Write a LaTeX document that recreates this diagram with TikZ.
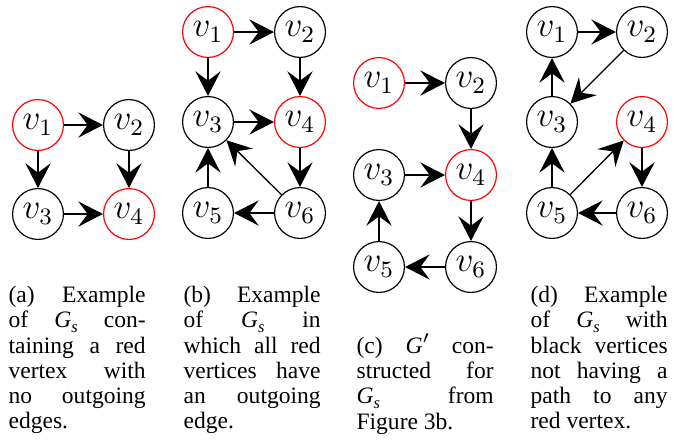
\documentclass[tikz,border=0pt]{standalone}
\usepackage{fontspec}
\setmainfont{Liberation Serif}
\usetikzlibrary{arrows.meta}

% caption column width and helpers
\newlength{\capw}
\setlength{\capw}{46.6pt}
\newcommand{\capline}[1]{\makebox[\capw][s]{#1}}
\newcommand{\Gsub}{\textit{G}\raisebox{-0.4ex}{\fontsize{5.6}{6}\selectfont\textit{s}}}
\newcommand{\Gprime}{\textit{G}\raisebox{0.85ex}{\fontsize{5.6}{6}\selectfont$\prime$}}

\begin{document}
\begin{tikzpicture}[x=0.34pt,y=-0.34pt,
  vtx/.style={circle, draw=black, line width=0.4pt, minimum size=17.3pt,
              inner sep=0pt, font=\fontsize{11.5}{12}\selectfont},
  redv/.style={draw=red},
  edge/.style={-{Stealth[length=8.4pt,width=8.6pt,inset=3.2pt]}, line width=0.45pt},
  caption/.style={anchor=base west, inner sep=0pt, font=\fontsize{8}{8.6}\selectfont}
]
\useasboundingbox (0,0) rectangle (688,441);

% (a)
\node[vtx,redv] (a1) at (38,125) {$v_1$};
\node[vtx]      (a2) at (129,125) {$v_2$};
\node[vtx]      (a3) at (38,214) {$v_3$};
\node[vtx,redv] (a4) at (129,214) {$v_4$};
\draw[edge] (a1) -- (a2);
\draw[edge] (a1) -- (a3);
\draw[edge] (a2) -- (a4);
\draw[edge] (a3) -- (a4);

% (b)
\node[vtx,redv] (b1) at (208,32) {$v_1$};
\node[vtx]      (b2) at (300,32) {$v_2$};
\node[vtx]      (b3) at (208,122) {$v_3$};
\node[vtx,redv] (b4) at (300,122) {$v_4$};
\node[vtx]      (b5) at (208,213) {$v_5$};
\node[vtx]      (b6) at (300,213) {$v_6$};
\draw[edge] (b1) -- (b2);
\draw[edge] (b1) -- (b3);
\draw[edge] (b2) -- (b4);
\draw[edge] (b3) -- (b4);
\draw[edge] (b4) -- (b6);
\draw[edge] (b6) -- (b5);
\draw[edge] (b5) -- (b3);
\draw[edge] (b6) -- (b3);

% (c)
\node[vtx,redv] (c1) at (379,83) {$v_1$};
\node[vtx]      (c2) at (471,83) {$v_2$};
\node[vtx]      (c3) at (379,175) {$v_3$};
\node[vtx,redv] (c4) at (471,175) {$v_4$};
\node[vtx]      (c5) at (379,267) {$v_5$};
\node[vtx]      (c6) at (471,267) {$v_6$};
\draw[edge] (c1) -- (c2);
\draw[edge] (c2) -- (c4);
\draw[edge] (c3) -- (c4);
\draw[edge] (c4) -- (c6);
\draw[edge] (c6) -- (c5);
\draw[edge] (c5) -- (c3);

% (d)
\node[vtx]      (d1) at (552,32) {$v_1$};
\node[vtx]      (d2) at (642,32) {$v_2$};
\node[vtx]      (d3) at (552,122) {$v_3$};
\node[vtx,redv] (d4) at (642,122) {$v_4$};
\node[vtx]      (d5) at (552,213) {$v_5$};
\node[vtx]      (d6) at (642,213) {$v_6$};
\draw[edge] (d1) -- (d2);
\draw[edge] (d2) -- (d3);
\draw[edge] (d3) -- (d1);
\draw[edge] (d5) -- (d3);
\draw[edge] (d5) -- (d4);
\draw[edge] (d4) -- (d6);
\draw[edge] (d6) -- (d5);

% captions
\node[caption] (capa) at (8,302.5) {\parbox[t]{\capw}{%
  \capline{(a) Example}\\
  \capline{of \Gsub{} con-}\\
  \capline{taining a red}\\
  \capline{vertex with}\\
  \capline{no outgoing}\\
  edges.}};
\node[caption] (capb) at (183,302.5) {\parbox[t]{\capw}{%
  \capline{(b) Example}\\
  \capline{of \Gsub{} in}\\
  \capline{which all red}\\
  \capline{vertices have}\\
  \capline{an outgoing}\\
  edge.}};
\node[caption] (capc) at (356,353.1) {\parbox[t]{\capw}{%
  \capline{(c) \Gprime{} con-}\\
  \capline{structed for}\\
  \capline{\Gsub{} from}\\
  Figure 3b.}};
\node[caption] (capd) at (530,302.5) {\parbox[t]{\capw}{%
  \capline{(d) Example}\\
  \capline{of \Gsub{} with}\\
  \capline{black vertices}\\
  \capline{not having a}\\
  \capline{path to any}\\
  red vertex.}};
\end{tikzpicture}
\end{document}
